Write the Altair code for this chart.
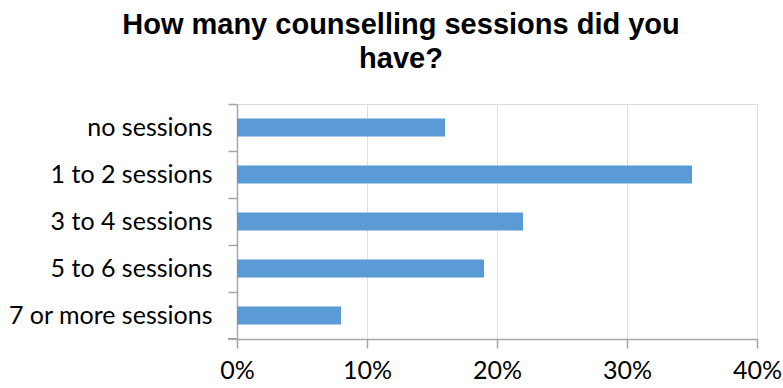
import altair as alt
import pandas as pd

categories = ["no sessions", "1 to 2 sessions", "3 to 4 sessions", "5 to 6 sessions", "7 or more sessions"]
values = [0.16, 0.35, 0.22, 0.19, 0.08]
title_lines = ["How many counselling sessions did you", "have?"]

df = pd.DataFrame({"category": categories, "value": values})

W, H = 520, 235
LABEL_FONT = "Lato"
AX = "#A6A6A6"

bars = alt.Chart(df).mark_bar(color="#5B9BD5").encode(
    x=alt.X("value:Q",
            scale=alt.Scale(domain=[0, 0.4], nice=False),
            axis=alt.Axis(format=".0%", values=[0, 0.1, 0.2, 0.3, 0.4], title=None,
                          grid=True, gridColor="#D6E1F2", gridWidth=1,
                          domainColor=AX, domainWidth=1.5,
                          tickColor=AX, tickWidth=1.5, tickSize=9,
                          labelFont=LABEL_FONT, labelFontSize=25, labelColor="#000000",
                          labelPadding=10, labelFlush=False)),
    y=alt.Y("category:N", sort=categories,
            scale=alt.Scale(paddingInner=0.62, paddingOuter=0.31),
            axis=alt.Axis(title=None, bandPosition=-0.815,
                          domainColor=AX, domainWidth=1.5,
                          tickColor=AX, tickWidth=1.5, tickSize=9,
                          labelFont=LABEL_FONT, labelFontSize=25, labelColor="#000000",
                          labelPadding=16, labelLimit=400)),
)

bottom_tick = alt.Chart(df).mark_rule(color=AX, strokeWidth=1.5).encode(
    x=alt.value(-9), x2=alt.value(0), y=alt.value(H)
)

chart = alt.layer(bars, bottom_tick).properties(
    width=W, height=H,
    autosize=alt.AutoSizeParams(type="none"),
    padding={"left": 237, "top": 104, "right": 26, "bottom": 49},
    title=alt.TitleParams(text=title_lines, font="Liberation Sans", fontSize=29,
                          fontWeight="bold", color="#000000", anchor="middle",
                          dx=-96, offset=29, lineHeight=34),
).configure_view(stroke=None).configure(background="white")

chart.save("out.html", embed_options={"renderer": "svg", "actions": False})
